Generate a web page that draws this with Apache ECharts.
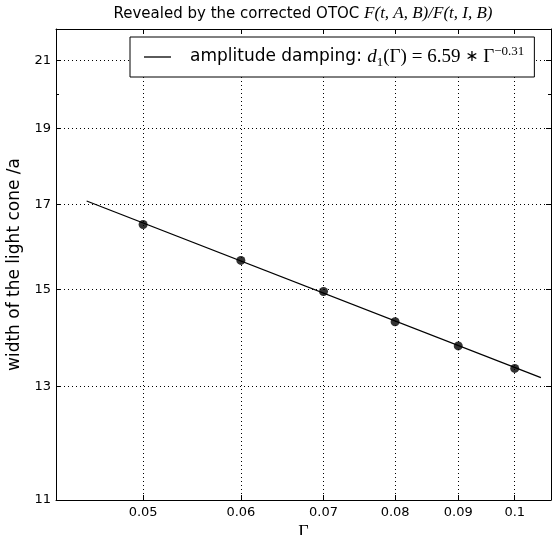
<!DOCTYPE html>
<html>
<head>
<meta charset="utf-8">
<script src="https://cdn.jsdelivr.net/npm/echarts@6/dist/echarts.min.js"></script>
<style>
  html, body { margin: 0; padding: 0; background: #fff; }
  #chart { width: 553px; height: 535px; }
</style>
</head>
<body>
<div id="chart"></div>
<script>
// Light-cone width versus damping rate Γ, on log–log axes
const gammaValues = [0.05, 0.06, 0.07, 0.08, 0.09, 0.1];
const widthValues = [16.50, 15.65, 14.95, 14.30, 13.80, 13.35];

// Ends of the power-law fit d1(Γ) = 6.59 * Γ^-0.31 (straight on log–log axes)
const fitGamma = [0.045, 0.105];
const fitWidth = [17.08, 13.17];

const xTicks = [0.05, 0.06, 0.07, 0.08, 0.09, 0.1];
const xTickLabels = ['0.05', '0.06', '0.07', '0.08', '0.09', '0.1'];
const yTicks = [11, 13, 15, 17, 19, 21];
const yTickLabels = ['11', '13', '15', '17', '19', '21'];
const yMinorTicks = [20];
const xRange = [0.0425, 0.107];
const yRange = [11, 22];

const lg = Math.log10;
const toLog = (xs, ys) => xs.map((x, i) => [lg(x), lg(ys[i])]);

function labelLookup(ticks, labels) {
  return function (v) {
    const i = ticks.findIndex(t => Math.abs(lg(t) - v) < 1e-6);
    return i < 0 ? '' : labels[i];
  };
}

const black = '#000';
const tickFont = { color: black, fontSize: 13, fontFamily: 'DejaVu Sans' };
const dotted = { color: black, width: 1, type: [1, 3] };

function axis(kind, pos, withLabels) {
  const ticks = kind === 'x' ? xTicks : yTicks;
  const labels = kind === 'x' ? xTickLabels : yTickLabels;
  const range = kind === 'x' ? xRange : yRange;
  const vals = ticks.map(lg);
  return {
    type: 'value',
    position: pos,
    min: lg(range[0]),
    max: lg(range[1]),
    axisLine: { show: true, onZero: false, lineStyle: { color: black, width: 1 } },
    axisTick: { show: true, inside: true, length: 5, customValues: vals, lineStyle: { color: black, width: 1 } },
    axisLabel: withLabels
      ? Object.assign({ customValues: vals, formatter: labelLookup(ticks, labels), margin: kind === 'x' ? 6 : 5 }, tickFont)
      : { show: false },
    splitLine: { show: withLabels, lineStyle: dotted },
    minorTick: { show: false },
    minorSplitLine: { show: false }
  };
}

// short inward ticks at the minor log positions of the y axis
function minorYAxis(pos) {
  return {
    type: 'value',
    position: pos,
    min: lg(yRange[0]),
    max: lg(yRange[1]),
    axisLine: { show: false, onZero: false },
    axisTick: { show: true, inside: true, length: 3, customValues: yMinorTicks.map(lg), lineStyle: { color: black, width: 1 } },
    axisLabel: { show: false },
    splitLine: { show: false }
  };
}

const xBottom = axis('x', 'bottom', true);
xBottom.name = 'Γ';
xBottom.nameLocation = 'middle';
xBottom.nameGap = 20;
xBottom.nameTextStyle = { color: black, fontSize: 18, fontFamily: 'Liberation Serif' };

const yLeft = axis('y', 'left', true);
yLeft.name = 'width of the light cone /a';
yLeft.nameLocation = 'middle';
yLeft.nameGap = 28;
yLeft.nameTextStyle = { color: black, fontSize: 17, fontFamily: 'DejaVu Sans' };

const chart = echarts.init(document.getElementById('chart'), null, { renderer: 'canvas' });

chart.setOption({
  animation: false,
  backgroundColor: '#fff',
  grid: { left: 56, right: 2, top: 29, bottom: 35, containLabel: false, outerBoundsMode: 'none' },
  xAxis: [xBottom, axis('x', 'top', false)],
  yAxis: [yLeft, axis('y', 'right', false), minorYAxis('left'), minorYAxis('right')],
  graphic: [{
    type: 'text',
    x: 303,
    y: 14,
    style: {
      text: '{a|Revealed by the corrected OTOC }{m|F(t, A, B)/F(t, I, B)}',
      align: 'center',
      verticalAlign: 'middle',
      rich: {
        a: { fontSize: 15, fontFamily: 'DejaVu Sans', fill: black, color: black },
        m: { fontSize: 17, fontFamily: 'Liberation Serif', fontStyle: 'italic', fill: black, color: black }
      }
    }
  }],
  legend: {
    data: [{ name: 'amplitude damping', icon: 'rect' }],
    left: 130,
    top: 37,
    padding: [8, 10, 8, 14],
    borderColor: black,
    borderWidth: 1,
    borderRadius: 0,
    backgroundColor: '#fff',
    itemWidth: 27,
    itemHeight: 1.3,
    itemStyle: { color: black },
    selectedMode: false,
    formatter: () => 'amplitude damping: {mi|d}{sub|1}{mr|(Γ) = 6.59 }{op|∗}{mr| Γ}{sup|−0.31}',
    textStyle: {
      color: black,
      fontSize: 17,
      fontFamily: 'DejaVu Sans',
      padding: [0, 0, 0, 14],
      rich: {
        mi: { fontSize: 19, fontFamily: 'Liberation Serif', fontStyle: 'italic', color: black, lineHeight: 24 },
        mr: { fontSize: 19, fontFamily: 'Liberation Serif', color: black, lineHeight: 24 },
        op: { fontSize: 16, fontFamily: 'DejaVu Sans', color: black, lineHeight: 24 },
        sub: { fontSize: 13, fontFamily: 'Liberation Serif', color: black, verticalAlign: 'bottom', lineHeight: 24 },
        sup: { fontSize: 13, fontFamily: 'Liberation Serif', color: black, verticalAlign: 'top', lineHeight: 24 }
      }
    }
  },
  series: [
    {
      name: 'amplitude damping',
      type: 'line',
      xAxisIndex: 0,
      yAxisIndex: 0,
      data: toLog(fitGamma, fitWidth),
      symbol: 'none',
      lineStyle: { color: black, width: 1.2 },
      itemStyle: { color: black },
      silent: true
    },
    {
      name: 'Γ data',
      type: 'scatter',
      xAxisIndex: 0,
      yAxisIndex: 0,
      data: toLog(gammaValues, widthValues),
      symbol: 'circle',
      symbolSize: 9,
      itemStyle: { color: black },
      silent: true
    }
  ]
});
</script>
</body>
</html>
